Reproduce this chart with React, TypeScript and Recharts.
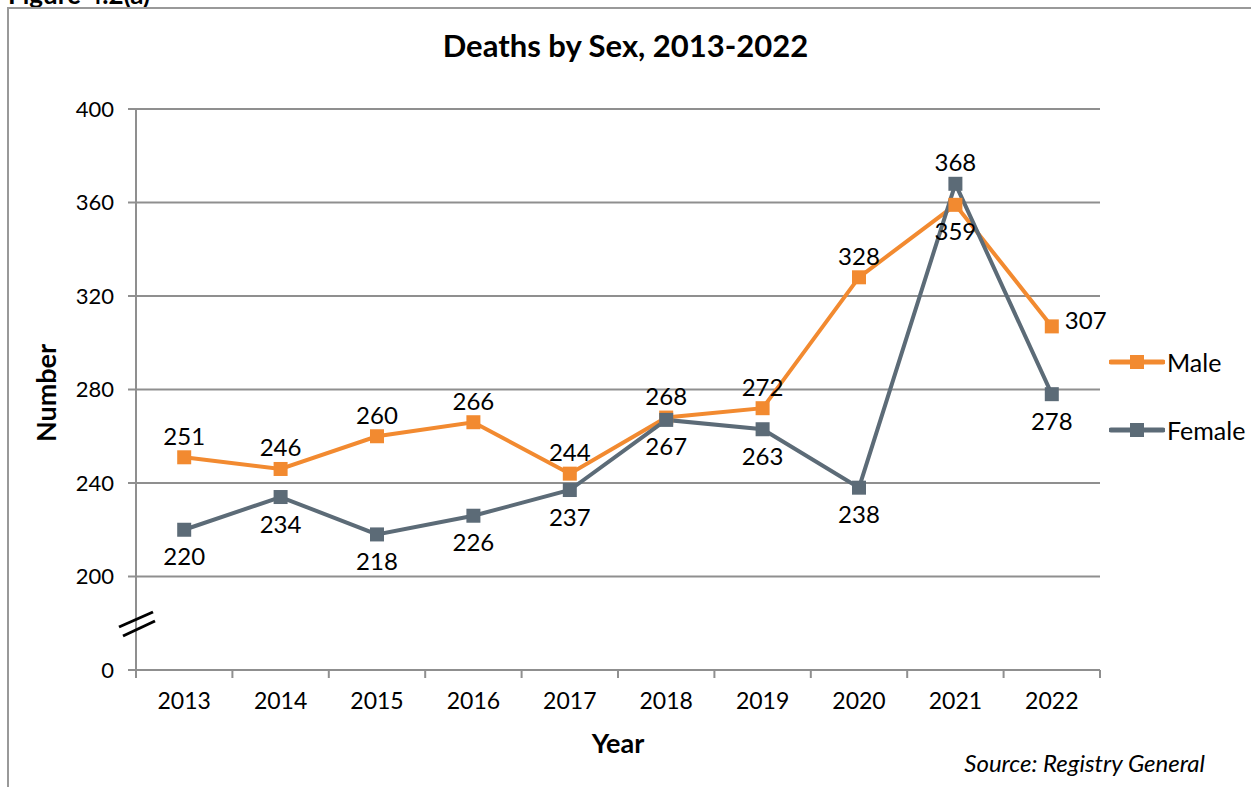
import { LineChart, Line, XAxis, YAxis, CartesianGrid, LabelList } from 'recharts'

// Deaths by sex, 2013-2022 (Registry General)
const years = ['2013', '2014', '2015', '2016', '2017', '2018', '2019', '2020', '2021', '2022']
const male = [251, 246, 260, 266, 244, 268, 272, 328, 359, 307]
const female = [220, 234, 218, 226, 237, 267, 263, 238, 368, 278]
// axis break: 160 on the scale stands for 0
const yTicks = [160, 200, 240, 280, 320, 360, 400]

// where each point's value label sits
const maleLabelSide = ['top', 'top', 'top', 'top', 'top', 'top', 'top', 'top', 'bottom', 'right']
const femaleLabelSide = ['bottom', 'bottom', 'bottom', 'bottom', 'bottom', 'bottom', 'bottom', 'bottom', 'top', 'bottom']

const ORANGE = '#F28A30'
const SLATE = '#5C6B77'
const GRID = '#8f8f8f'
const FONT = 'Lato, "Open Sans", sans-serif'

const data = years.map((y, i) => ({ year: y, male: male[i], female: female[i] }))
const legendItems = [
  { name: 'Male', color: ORANGE },
  { name: 'Female', color: SLATE },
]

const squareDot = (color: string) => (p: any) => (
  <rect key={p.index} x={p.cx - 7} y={p.cy - 7} width={14} height={14} fill={color} />
)

const sideLabel = (sides: string[]) => (p: any) => {
  const side = sides[p.index]
  let dx = 0
  let dy = 0
  let anchor: 'middle' | 'start' = 'middle'
  if (side === 'top') dy = -22
  if (side === 'bottom') dy = 26
  if (side === 'right') { dx = 13; dy = -7; anchor = 'start' }
  return (
    <text
      key={p.index}
      x={p.x + dx}
      y={p.y + dy}
      textAnchor={anchor}
      dominantBaseline="central"
      fontSize={24}
      fontFamily={FONT}
      fill="#000"
    >
      {p.value}
    </text>
  )
}

const YearTick = (props: any) => {
  const { x, y, payload, index } = props
  const band = 96.4
  return (
    <g>
      <line x1={x - band / 2} x2={x - band / 2} y1={y - 8} y2={y} stroke={GRID} strokeWidth={2} />
      {index === years.length - 1 && (
        <line x1={x + band / 2} x2={x + band / 2} y1={y - 8} y2={y} stroke={GRID} strokeWidth={2} />
      )}
      <text x={x} y={y + 22} textAnchor="middle" dominantBaseline="central" fontSize={23} fontFamily={FONT} fill="#000">
        {payload.value}
      </text>
    </g>
  )
}

export default function App() {
  return (
    <div style={{ position: 'fixed', left: 0, top: 0, width: 1251, height: 787, overflow: 'hidden', background: '#fff', fontFamily: FONT }}>
      <div style={{ position: 'absolute', left: 8, top: -22, fontWeight: 700, fontSize: 26, fontFamily: FONT, color: '#000' }}>
        Figure 4.2(a)
      </div>
      <div style={{ position: 'absolute', left: 7, top: 7, width: 1300, height: 900, border: '2px solid #999', boxSizing: 'border-box' }} />
      <div style={{ position: 'absolute', left: 0, top: 26, width: 1251, textAlign: 'center', paddingRight: 8, fontWeight: 700, fontSize: 31, color: '#000' }}>
        Deaths by Sex, 2013-2022
      </div>
      <div style={{ position: 'absolute', left: 0, top: 0 }}>
        <LineChart width={1251} height={787} data={data} margin={{ top: 109, left: 66, right: 151, bottom: 77 }}>
          <CartesianGrid horizontal vertical={false} stroke={GRID} strokeWidth={2} />
          <XAxis
            dataKey="year"
            scale="band"
            height={40}
            axisLine={{ stroke: GRID, strokeWidth: 2 }}
            tickLine={false}
            tick={<YearTick />}
            interval={0}
          />
          <YAxis
            domain={[160, 400]}
            ticks={yTicks}
            width={70}
            tickFormatter={(v: number) => (v === 160 ? '0' : String(v))}
            axisLine={{ stroke: GRID, strokeWidth: 2 }}
            tickLine={{ stroke: GRID, strokeWidth: 2 }}
            tickSize={8}
            tickMargin={14}
            tick={{ fontSize: 22, fill: '#000', fontFamily: FONT }}
          />
          <Line
            name="Male"
            dataKey="male"
            stroke={ORANGE}
            strokeWidth={4}
            dot={squareDot(ORANGE)}
            activeDot={false}
            isAnimationActive={false}
          >
            <LabelList dataKey="male" content={sideLabel(maleLabelSide)} />
          </Line>
          <Line
            name="Female"
            dataKey="female"
            stroke={SLATE}
            strokeWidth={4}
            dot={squareDot(SLATE)}
            activeDot={false}
            isAnimationActive={false}
          >
            <LabelList dataKey="female" content={sideLabel(femaleLabelSide)} />
          </Line>
        </LineChart>
      </div>
      <div style={{ position: 'absolute', left: 1109, top: 345, fontSize: 25, color: '#000' }}>
        {legendItems.map((e, i) => (
          <div key={e.name} style={{ display: 'flex', alignItems: 'center', height: 34, marginBottom: i === 0 ? 34 : 0 }}>
            <svg width={56} height={16}>
              <line x1={2} x2={54} y1={8} y2={8} stroke={e.color} strokeWidth={5} strokeLinecap="round" />
              <rect x={21} y={1} width={14} height={14} fill={e.color} />
            </svg>
            <span style={{ marginLeft: 2 }}>{e.name}</span>
          </div>
        ))}
      </div>
      <svg style={{ position: 'absolute', left: 0, top: 0 }} width={1251} height={787}>
        <line x1={119} y1={627} x2={153} y2={612} stroke="#000" strokeWidth={3} />
        <line x1={123} y1={636} x2={155} y2={621} stroke="#000" strokeWidth={3} />
        <text x={45} y={393} transform="rotate(-90 45 393)" textAnchor="middle" dominantBaseline="central" fontWeight={700} fontSize={27} fontFamily={FONT}>
          Number
        </text>
        <text x={618} y={742} textAnchor="middle" dominantBaseline="central" fontWeight={700} fontSize={27} fontFamily={FONT}>
          Year
        </text>
        <text x={1205} y={762} textAnchor="end" dominantBaseline="central" fontStyle="italic" fontSize={24} fontFamily={FONT}>
          Source: Registry General
        </text>
      </svg>
    </div>
  )
}
